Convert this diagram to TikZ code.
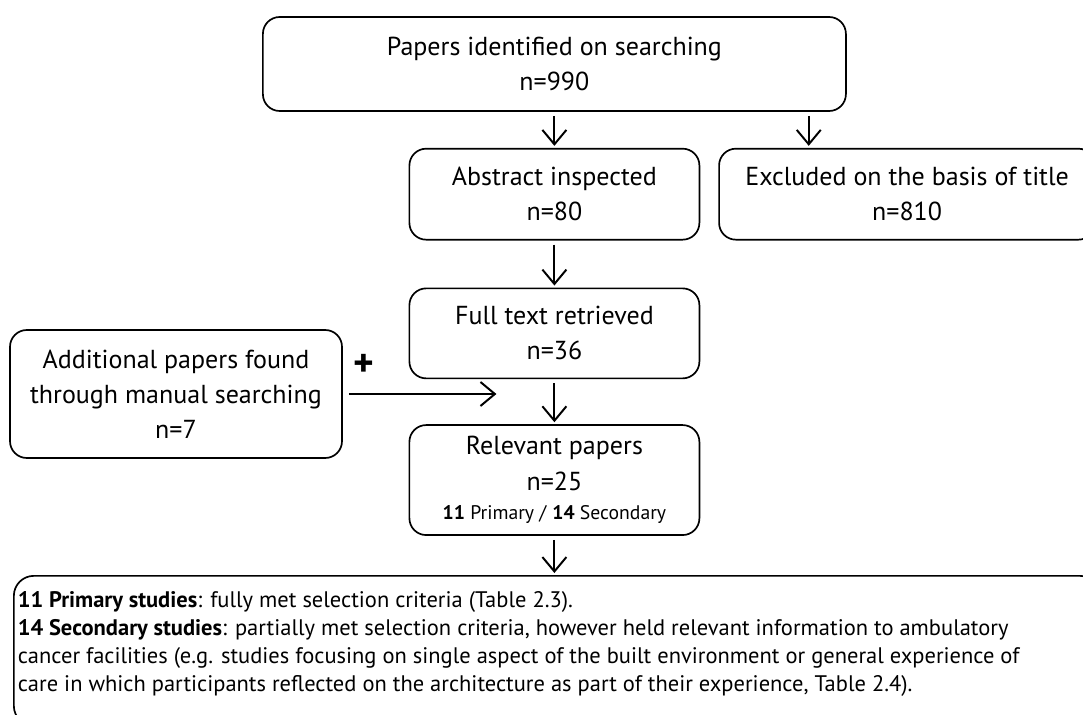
\documentclass[tikz,border=0pt]{standalone}
\usepackage{fontspec}
\setmainfont{PT Sans}
\usetikzlibrary{positioning,arrows.meta}

\begin{document}
\begin{tikzpicture}
		%\draw[help lines] (0,0) grid (27,-18);
		\tikzset{BoxStyle/.style = {rectangle, rounded corners=0.42cm, draw, line width=1.2pt,
				align=center, inner sep=0pt, font=\fontsize{18.5}{25}\selectfont},
			ArrowStyle/.style = {-{Straight Barb[length=0.36cm, width=0.6cm]}, line width=1.4pt,
				shorten <=0.1cm, shorten >=0.05cm}}
		\clip (0,0) rectangle (27.075,-17.875);
		\node[BoxStyle, minimum width=14.575cm, minimum height=2.35cm] (papers) at (13.86,-1.6)
			{Papers identified on searching\\n=990};
		\node[BoxStyle, minimum width=7.25cm, minimum height=2.275cm, below=0.9cm of papers] (abstract)
			{Abstract inspected\\n=80};
		\node[BoxStyle, minimum width=9.4cm, minimum height=2.275cm, right=0.45cm of abstract] (excluded)
			{Excluded on the basis of title\\n=810};
		\node[BoxStyle, minimum width=7.25cm, minimum height=2.25cm, below=1.175cm of abstract] (full)
			{Full text retrieved\\n=36};
		\node[BoxStyle, minimum width=7.25cm, minimum height=2.75cm, below=1.125cm of full] (relevant)
			{Relevant papers\\n=25\\[-4pt]{\fontsize{14}{16}\selectfont\textbf{11} Primary / \textbf{14} Secondary}};
		\node[BoxStyle, minimum width=8.3cm, minimum height=3.2cm] (additional) at (4.4,-9.85)
			{Additional papers found\\through manual searching\\n=7};
		\node[BoxStyle, rounded corners=0.5cm, anchor=north west, inner xsep=0.1cm, inner ysep=0.4cm,
			font=\fontsize{16}{19.9}\selectfont] (studies) at (0.325,-14.375)
			{\begin{minipage}[t][2.95cm][t]{26.95cm}\raggedright
				\textbf{11 Primary studies}: fully met selection criteria (Table 2.3).\\
				\textbf{14 Secondary studies}: partially met selection criteria, however held relevant information to ambulatory\\
				cancer facilities (e.g. studies focusing on single aspect of the built environment or general experience of\\
				care in which participants reflected on the architecture as part of their experience, Table 2.4).
			\end{minipage}};
		\coordinate (merge) at ([xshift=-1.45cm]full.south |- additional.east);
		\draw[ArrowStyle] (papers) -- (abstract);
		\draw[ArrowStyle] ([xshift=-0.95cm]papers.south east) -- ([xshift=-0.95cm]papers.south east |- excluded.north);
		\draw[ArrowStyle] (abstract) -- (full);
		\draw[ArrowStyle] (full) -- (relevant);
		\draw[ArrowStyle, shorten <=0.15cm, shorten >=0cm] (additional.east) --
			node[pos=0.14, above=0.3cm, font=\fontsize{28}{28}\selectfont\bfseries]{+} (merge);
		\draw[ArrowStyle] (relevant) -- (studies.north -| relevant.south);
		\end{tikzpicture}
\end{document}
